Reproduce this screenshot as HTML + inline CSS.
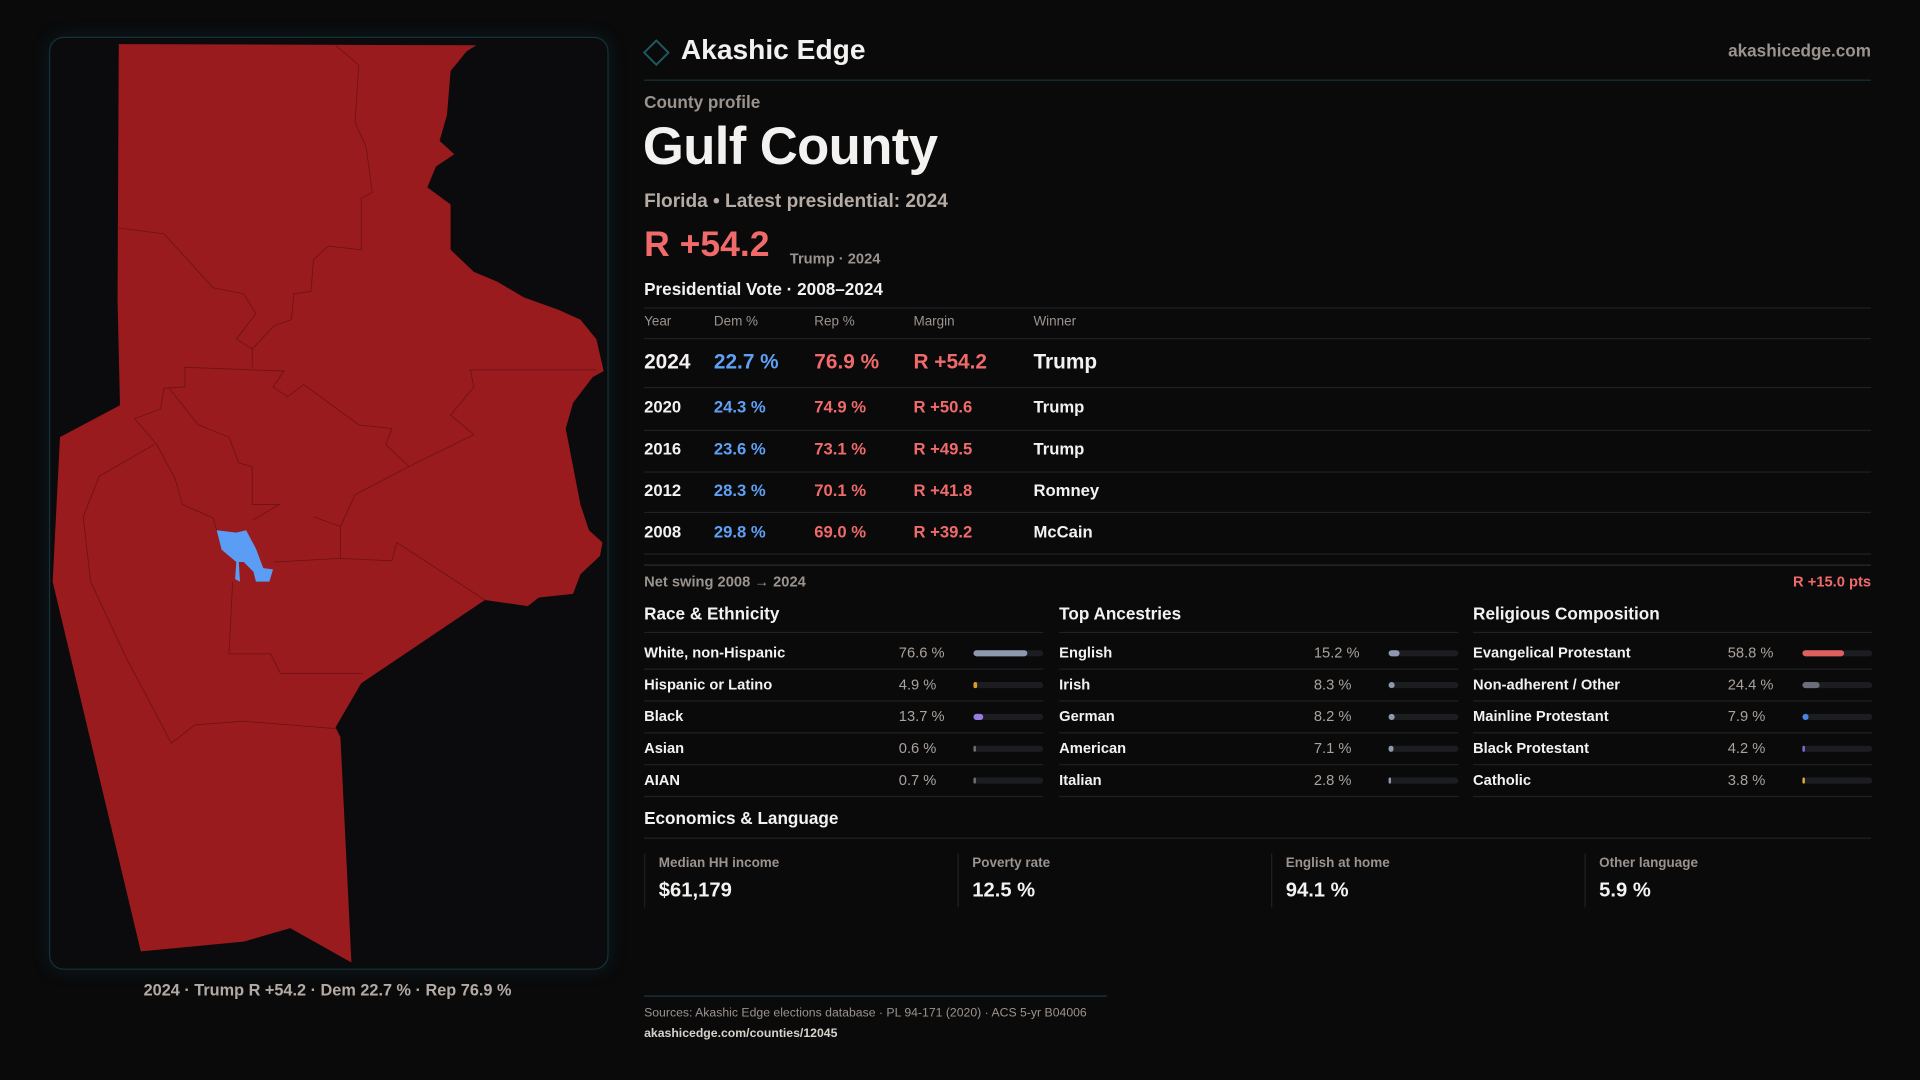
<!DOCTYPE html>
<html><head><meta charset="utf-8">
<style>
html,body{margin:0;padding:0;background:#0a0a0b;}
body{width:1920px;height:1080px;overflow:hidden;font-family:"Liberation Sans",sans-serif;}
#stage{position:absolute;left:0;top:0;width:1568px;height:882px;transform:scale(1.22449);transform-origin:0 0;}
.t{position:absolute;white-space:nowrap;line-height:1;}
.hl{position:absolute;height:1px;background:#1f2124;}
.grey{color:#9b938d}
.red{color:#f06a6a}
.blue{color:#5fa0f5}
.w{color:#f4f2f0}
</style></head><body>
<div id="stage">

<div style="position:absolute;left:40px;top:30px;width:455px;height:760px;border:1px solid #143238;border-radius:12px;background:#0b0b0d;box-shadow:0 0 14px rgba(20,80,90,0.25);"></div>
<svg style="position:absolute;left:0;top:0" width="1568" height="882" viewBox="0 0 1568 882">
<path fill="#9a1b1e" d="M97,36 L389,37 L381,42 L368,58 L365,94 L359,115 L371,126 L356,136 L349,153 L368,167 L368,204 L387,222 L406,230 L428,243 L456,253 L474,261 L487,277 L493,303 L484,308 L468,329 L462,350 L468,381 L474,412 L481,433 L492,443 L490,454 L474,469 L468,485 L440,488 L431,495 L396,490 L295,558 L274,594 L278,602 L287,786 L237,758 L199,769 L115,777 L43,475 L49,357 L98,331 L96,245 Z"/>
<g fill="none" stroke="#6e1215" stroke-width="0.7">
<path d="M96,186 L134,191 L174,235 L199,240 L209,256 L193,277 L206,285 L206,300"/>
<path d="M274,37 L293,53 L290,100 L299,120 L304,157 L295,162 L295,204 L268,201 L256,212 L254,238 L240,240 L238,261 L224,266 L206,285"/>
<path d="M151,300 L232,303 L223,316 L235,324 L248,314 L293,347 L320,350 L315,363 L334,381 L387,355 L368,339 L387,316 L384,302 L487,302"/>
<path d="M151,300 L151,316 L134,317 L131,334 L110,342 L128,363 L143,391 L149,412 L174,423 L177,433"/>
<path d="M138,317 L162,347 L187,357 L195,378 L206,381 L206,412 L228,412 L206,425"/>
<path d="M334,381 L290,404 L278,430 L278,456 L224,459 M278,456 L320,458 L324,443 L396,490"/>
<path d="M256,422 L278,430"/>
<path d="M190,475 L187,534 L221,534 L229,550 L296,550"/>
<path d="M126,363 L81,389 L68,422 L74,475 L103,537 L140,607 L159,592 L199,589 L274,595"/>
</g>
<path fill="#5b9cf5" d="M177,433 L193,435 L201,433 L209,448 L215,464 L223,465 L220,475 L209,475 L207,467 L199,459 L195,459 L196,475 L192,473 L193,459 L181,449 Z"/>
</svg>
<div class="t" style="left:40px;width:455px;text-align:center;top:802px;font-size:13.3px;color:#b3aaa3;font-weight:bold;">2024 · Trump R +54.2 · Dem 22.7 % · Rep 76.9 %</div>

<svg style="position:absolute;left:525px;top:32px" width="22" height="22"><rect x="4" y="4" width="14" height="14" transform="rotate(45 11 11)" fill="none" stroke="#1d5a60" stroke-width="1.6"/></svg>
<div class="t w" style="left:556px;top:29px;font-size:23px;font-weight:bold;">Akashic Edge</div>
<div class="t grey" style="right:40px;top:34px;font-size:14px;font-weight:bold;">akashicedge.com</div>
<div class="hl" style="left:526px;width:1002px;top:65px;background:#173236"></div>

<div class="t grey" style="left:526px;top:76px;font-size:14px;font-weight:bold;">County profile</div>
<div class="t w" style="left:525px;top:99px;font-size:43px;font-weight:bold;letter-spacing:-0.5px;">Gulf County</div>
<div class="t" style="left:526px;top:157px;font-size:15.6px;font-weight:bold;color:#b5aca5;">Florida • Latest presidential: 2024</div>
<div class="t red" style="left:526px;top:186px;font-size:29px;font-weight:bold;">R +54.2</div>
<div class="t grey" style="left:645px;top:205px;font-size:12px;font-weight:bold;">Trump · 2024</div>
<div class="t w" style="left:526px;top:229px;font-size:14px;font-weight:bold;">Presidential Vote · 2008–2024</div>
<div class="hl" style="left:526px;width:1002px;top:251px"></div>
<div class="t grey" style="left:526px;top:258px;font-size:11px;">Year</div>
<div class="t grey" style="left:583px;top:258px;font-size:11px;">Dem %</div>
<div class="t grey" style="left:665px;top:258px;font-size:11px;">Rep %</div>
<div class="t grey" style="left:746px;top:258px;font-size:11px;">Margin</div>
<div class="t grey" style="left:844px;top:258px;font-size:11px;">Winner</div>
<div class="hl" style="left:526px;width:1002px;top:276px"></div>
<div id="votes"></div>
<div class="hl" style="left:526px;width:1002px;top:461px;background:#2a2c30"></div>
<div class="t grey" style="left:526px;top:469px;font-size:12px;font-weight:bold;">Net swing 2008 → 2024</div>
<div class="t red" style="right:40px;top:469px;font-size:12px;font-weight:bold;">R +15.0 pts</div>
<div id="demo"></div>

<div class="t w" style="left:526px;top:661px;font-size:14px;font-weight:bold;">Economics &amp; Language</div>
<div class="hl" style="left:526px;width:1002px;top:684px"></div>
<div id="econ"></div>

<div class="hl" style="left:526px;width:378px;top:813px;background:#173a3e"></div>
<div class="t grey" style="left:526px;top:823px;font-size:10px;">Sources: Akashic Edge elections database · PL 94-171 (2020) · ACS 5-yr B04006</div>
<div class="t" style="left:526px;top:840px;font-size:10px;color:#d8d2cc;font-weight:bold;">akashicedge.com/counties/12045</div>
</div>

<script>
const years = ["2024","2020","2016","2012","2008"];
const demPct = [22.7, 24.3, 23.6, 28.3, 29.8];
const repPct = [76.9, 74.9, 73.1, 70.1, 69.0];
const winners = ["Trump","Trump","Trump","Romney","McCain"];

const raceLabels = ["White, non-Hispanic","Hispanic or Latino","Black","Asian","AIAN"];
const raceValues = [76.6, 4.9, 13.7, 0.6, 0.7];
const ancLabels = ["English","Irish","German","American","Italian"];
const ancValues = [15.2, 8.3, 8.2, 7.1, 2.8];
const relLabels = ["Evangelical Protestant","Non-adherent / Other","Mainline Protestant","Black Protestant","Catholic"];
const relValues = [58.8, 24.4, 7.9, 4.2, 3.8];

const econLabels = ["Median HH income","Poverty rate","English at home","Other language"];
const econValues = ["$61,179","12.5 %","94.1 %","5.9 %"];

function mk(parent, cls, style, text){
  const d=document.createElement('div');
  d.className=cls; d.setAttribute('style',style);
  if(text!==undefined) d.textContent=text;
  parent.appendChild(d); return d;
}
const stage=document.getElementById('stage');
const rowY=[295,333,367,401,435];
const lineY=[316,351,385,418,452];
for(let i=0;i<years.length;i++){
  const fs=i===0?17:13.6, top=rowY[i]-fs*0.5;
  const m=(repPct[i]-demPct[i]).toFixed(1);
  const a=mk(stage,'t w','left:526px;top:'+top+'px;font-size:'+fs+'px;font-weight:bold;',years[i]);
  
  
  const b=mk(stage,'t blue','left:583px;top:'+top+'px;font-size:'+fs+'px;font-weight:bold;',demPct[i].toFixed(1)+' %');
  
  
  const c=mk(stage,'t red','left:665px;top:'+top+'px;font-size:'+fs+'px;font-weight:bold;',repPct[i].toFixed(1)+' %');
  
  
  const d=mk(stage,'t red','left:746px;top:'+top+'px;font-size:'+fs+'px;font-weight:bold;','R +'+m);
  
  
  const e=mk(stage,'t w','left:844px;top:'+top+'px;font-size:'+fs+'px;font-weight:bold;',winners[i]);
  
  
  mk(stage,'hl','left:526px;width:1002px;top:'+lineY[i]+'px;');
}
const panels=[
 {x:526,title:"Race & Ethnicity",labels:raceLabels,values:raceValues,colors:["#8e99ae","#e09a2a","#9b7be0","#6a6f7a","#6a6f7a"],key:"race"},
 {x:865,title:"Top Ancestries",labels:ancLabels,values:ancValues,colors:["#8e99ae","#8e99ae","#8e99ae","#8e99ae","#8e99ae"],key:"ancestry"},
 {x:1203,title:"Religious Composition",labels:relLabels,values:relValues,colors:["#e06060","#6b6e78","#4a86e0","#7a70d8","#e0b030"],key:"religion"}
];
const dy=[533,559,585,611,637];
const trackW=57;
panels.forEach(p=>{
  const h=mk(stage,'t w','left:'+p.x+'px;top:494px;font-size:14px;font-weight:bold;',p.title);
  
  
  mk(stage,'hl','left:'+p.x+'px;width:326px;top:516px;');
  for(let i=0;i<p.labels.length;i++){
    const l=mk(stage,'t w','left:'+p.x+'px;top:'+(dy[i]-6)+'px;font-size:12px;font-weight:bold;',p.labels[i]);
    
    
    const v=mk(stage,'t grey','left:'+(p.x+208)+'px;top:'+(dy[i]-6)+'px;font-size:12px;color:#aaa29c;',p.values[i].toFixed(1)+' %');
    
    
    const tr=mk(stage,'','position:absolute;left:'+(p.x+269)+'px;top:'+(dy[i]-2.5)+'px;width:'+trackW+'px;height:5px;border-radius:3px;background:#1c1d21;');
    
    
    const w=Math.max(1.5,trackW*p.values[i]/100);
    const f=mk(tr,'','position:absolute;left:0;top:0;height:5px;border-radius:3px;width:'+w+'px;background:'+p.colors[i]+';');
    
    
    mk(stage,'hl','left:'+p.x+'px;width:326px;top:'+(dy[i]+13)+'px;');
  }
});
for(let i=0;i<econLabels.length;i++){
  const x=526+256*i;
  const card=mk(stage,'','position:absolute;left:'+x+'px;top:697px;width:1px;height:44px;background:#1f2124;');
  
  
  const l=mk(stage,'t grey','left:'+(x+12)+'px;top:700px;font-size:11px;font-weight:bold;',econLabels[i]);
  
  
  const v=mk(stage,'t w','left:'+(x+12)+'px;top:719px;font-size:16.5px;font-weight:bold;',econValues[i]);
  
  
}
</script>
</body></html>
